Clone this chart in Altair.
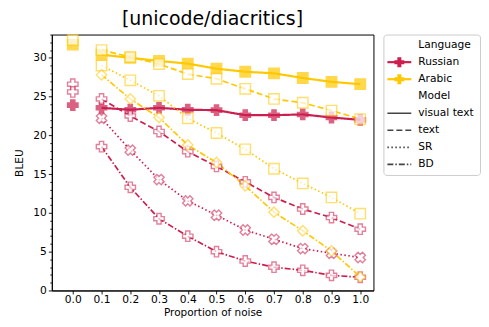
import altair as alt
import pandas as pd

# ---------------- data ----------------
noise = [0.1, 0.2, 0.3, 0.4, 0.5, 0.6, 0.7, 0.8, 0.9, 1.0]
x_ticks = [0.0, 0.1, 0.2, 0.3, 0.4, 0.5, 0.6, 0.7, 0.8, 0.9, 1.0]

languages = ["Russian", "Arabic"]
models = ["visual text", "text", "SR", "BD"]

ru_visual = [23.55, 23.3, 23.55, 23.3, 23.25, 22.6, 22.6, 22.7, 22.3, 22.0]
ru_text = [24.7, 22.5, 20.5, 17.9, 16.0, 14.0, 12.0, 10.5, 9.4, 7.9]
ru_sr = [22.2, 18.1, 14.3, 11.55, 9.7, 7.8, 6.6, 5.4, 4.8, 4.25]
ru_bd = [18.55, 13.3, 9.25, 7.0, 5.0, 3.8, 3.0, 2.6, 1.95, 1.7]

ar_visual = [30.4, 30.0, 29.6, 29.25, 28.6, 28.2, 28.0, 27.4, 26.9, 26.6]
ar_text = [31.0, 30.1, 29.2, 27.9, 27.3, 26.0, 24.7, 24.2, 23.2, 22.1]
ar_sr = [29.0, 27.1, 25.1, 22.2, 20.3, 18.2, 15.7, 13.8, 12.0, 9.9]
ar_bd = [27.8, 24.7, 22.3, 18.75, 16.5, 13.5, 10.1, 7.7, 5.1, 1.75]

# clean (noise = 0.0) scores, None where not shown
clean = {
    ("Russian", "visual text"): 23.9,
    ("Russian", "text"): 26.6,
    ("Russian", "BD"): 25.6,
    ("Arabic", "visual text"): 31.7,
    ("Arabic", "text"): 32.3,
}

series = [
    ("Russian", "visual text", ru_visual),
    ("Russian", "text", ru_text),
    ("Russian", "SR", ru_sr),
    ("Russian", "BD", ru_bd),
    ("Arabic", "visual text", ar_visual),
    ("Arabic", "text", ar_text),
    ("Arabic", "SR", ar_sr),
    ("Arabic", "BD", ar_bd),
]

legend_labels = ["Language", "Russian", "Arabic", "Model",
                 "visual text", "text", "SR", "BD"]

rows = []
for lang, model, vals in series:
    name = f"{lang} {model}"
    c = clean.get((lang, model))
    if c is not None:
        rows.append(dict(Language=lang, Model=model, Series=name, noise=0.0, BLEU=c))
    for n, v in zip(noise, vals):
        rows.append(dict(Language=lang, Model=model, Series=name, noise=n, BLEU=v))
df = pd.DataFrame(rows)

# ---------------- styles ----------------
CRIMSON = "#cc1f4f"
GOLD = "#ffc800"
FONT = "DejaVu Sans"
FS = 10.7

col_scale = alt.Scale(domain=languages, range=[CRIMSON, GOLD])
dash_scale = alt.Scale(domain=models, range=[[1, 0], [6, 3], [1.5, 2.5], [6, 2, 1.5, 2]])
series_names = [f"{l} {m}" for l, m, _ in series]
shape_scale = alt.Scale(domain=series_names,
                        range=["cross", "cross", "cross", "cross",
                               "square", "square", "square", "diamond"])
size_scale = alt.Scale(domain=series_names,
                       range=[110, 110, 140, 110, 100, 95, 95, 165])

xenc = alt.X("noise:Q", title="Proportion of noise",
             scale=alt.Scale(domain=[-0.073, 1.046], nice=False, zero=False),
             axis=alt.Axis(values=x_ticks, format=".1f", tickSize=3.5, labelPadding=1,
                           titlePadding=3, titleFontSize=10.5, grid=False))
yenc = alt.Y("BLEU:Q", title="BLEU",
             scale=alt.Scale(domain=[0, 33], nice=False),
             axis=alt.Axis(values=list(range(0, 34)),
                           labelExpr="datum.value % 5 === 0 ? datum.label : ''",
                           tickSize={"condition": {"test": "datum.value % 5 === 0", "value": 3.5},
                                     "value": 2},
                           labelPadding=2, titlePadding=8, grid=False))

base = alt.Chart(df)

lines = base.transform_filter(alt.datum.noise > 0).mark_line().encode(
    x=xenc, y=yenc,
    color=alt.Color("Language:N", scale=col_scale, legend=None),
    strokeDash=alt.StrokeDash("Model:N", scale=dash_scale, legend=None),
    strokeWidth=alt.condition(alt.datum.Model == "visual text", alt.value(2.2), alt.value(1.7)),
    detail="Series:N",
)

points = base.mark_point(strokeWidth=1.4).encode(
    x=xenc, y=yenc,
    stroke=alt.Stroke("Language:N", scale=col_scale, legend=None),
    fill=alt.condition(alt.datum.Model == "visual text",
                       alt.Fill("Language:N", scale=col_scale, legend=None),
                       alt.value("white")),
    fillOpacity=alt.value(1),
    strokeOpacity=alt.condition(alt.datum.Model == "visual text", alt.value(1), alt.value(0.8)),
    shape=alt.Shape("Series:N", scale=shape_scale, legend=None),
    size=alt.Size("Series:N", scale=size_scale, legend=None),
    angle=alt.condition(alt.datum.Series == "Russian SR", alt.value(45), alt.value(0)),
)

main = alt.layer(lines, points).properties(
    width=323, height=257,
    view=alt.ViewBackground(stroke="black", strokeWidth=1),
)

# ---------------- legend panel ----------------
leg_df = pd.DataFrame({"label": legend_labels})
ly = alt.Y("label:N", sort=legend_labels,
           scale=alt.Scale(type="point", padding=0.62), axis=None)
leg_base = alt.Chart(leg_df)

leg_text = leg_base.mark_text(align="left", baseline="middle", font=FONT,
                              fontSize=FS, color="black").encode(
    x=alt.value(35), y=ly, text="label:N")

leg_lang_line = leg_base.transform_filter(
    alt.FieldOneOfPredicate(field="label", oneOf=languages)
).mark_rule(strokeWidth=2.2).encode(
    x=alt.value(4), x2=alt.value(28), y=ly,
    color=alt.Color("label:N", scale=col_scale, legend=None))

leg_lang_pt = leg_base.transform_filter(
    alt.FieldOneOfPredicate(field="label", oneOf=languages)
).mark_point(filled=True, opacity=1).encode(
    x=alt.value(16), y=ly,
    color=alt.Color("label:N", scale=col_scale, legend=None),
    shape=alt.Shape("label:N", scale=alt.Scale(domain=languages, range=["cross", "square"]),
                    legend=None),
    size=alt.value(100))

leg_model_line = leg_base.transform_filter(
    alt.FieldOneOfPredicate(field="label", oneOf=models)
).mark_rule(strokeWidth=1.6, color="#444444").encode(
    x=alt.value(4), x2=alt.value(28), y=ly,
    strokeDash=alt.StrokeDash("label:N", scale=dash_scale, legend=None))

legend = alt.layer(leg_text, leg_lang_line, leg_lang_pt, leg_model_line).properties(
    width=97, height=141,
    view=alt.ViewBackground(stroke="#cccccc", strokeWidth=1, cornerRadius=3, fill="white"),
)

chart = alt.hconcat(main, legend, spacing=8).properties(
    padding={"left": 5, "top": 1, "right": 0, "bottom": 0},
    title=alt.TitleParams("[unicode/diacritics]", font=FONT, fontSize=19,
                          fontWeight="normal", color="black", anchor="start",
                          dx=109, offset=2),
).configure_axis(
    labelFont=FONT, titleFont=FONT, labelFontSize=FS, titleFontSize=FS,
    titleFontWeight="normal", labelColor="black", titleColor="black",
    tickColor="black", domainColor="black", tickWidth=0.9, domainWidth=1,
).configure_view(stroke=None)

chart.save("out.html", embed_options={"renderer": "svg", "actions": False})
